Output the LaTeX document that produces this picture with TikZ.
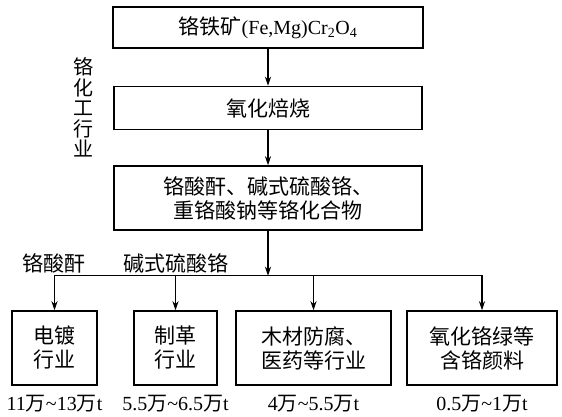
\documentclass[tikz,border=0pt]{standalone}
\usepackage{fontspec}
\setmainfont{Liberation Serif}
\newfontfamily\cjk{Noto Sans CJK SC}
\usetikzlibrary{arrows.meta, positioning}

\newcommand{\wan}{{\cjk 万}}

\begin{document}
\begin{tikzpicture}[
    x=1pt, y=-1pt,
    box/.style    = {rectangle, draw, line width=1.5pt, inner sep=0pt,
                     align=center, font=\fontsize{21}{24}\selectfont\cjk},
    wide/.style   = {box, minimum width=308pt},
    sector/.style = {box, minimum height=74pt},
    tag/.style    = {inner sep=0pt, align=center,
                     font=\fontsize{21}{24}\selectfont\cjk},
    amount/.style = {inner sep=0pt, font=\fontsize{20}{24}\selectfont},
    arrow/.style  = {-{Stealth[length=9pt, width=6pt]}, line width=1.1pt}
]
\useasboundingbox (0,0) rectangle (562,417);

% ========= central column =========
\node[wide, minimum width=310pt, minimum height=41pt,
      font=\fontsize{20}{24}\selectfont] (ore) at (268,27.5)
    {{\cjk\fontsize{21}{24}\selectfont 铬铁矿}(Fe,Mg)Cr\textsubscript{2}O\textsubscript{4}};
\node[wide, minimum height=43pt, below=37pt of ore]       (roast)     {氧化焙烧};
\node[wide, minimum height=64pt, below=35pt of roast]     (compounds) {铬酸酐、碱式硫酸铬、\\重铬酸钠等铬化合物};

\node[tag, font=\fontsize{20}{20.5}\selectfont\cjk] (industry) at (83,107.5)
    {铬\\化\\工\\行\\业};

\draw[arrow] (ore)   -- (roast);
\draw[arrow] (roast) -- (compounds);

% ========= uses =========
\node[sector, minimum width=85pt]  (plating) at (54.5,348)  {电镀\\行业};
\node[sector, minimum width=83pt]  (tanning) at (175.5,348) {制革\\行业};
\node[sector, minimum width=155pt] (wood)    at (313.5,348) {木材防腐、\\医药等行业};
\node[sector, minimum width=150pt] (pigment) at (482,348)   {氧化铬绿等\\含铬颜料};

\coordinate[below=45pt of compounds.south] (split);

\draw[arrow] (compounds) -- (split);
\draw[arrow] (split) -| (plating);
\draw[arrow] (split) -| (pigment);
\draw[arrow] (tanning |- split) -- (tanning);
\draw[arrow] (wood |- split)    -- (wood);

\node[tag] (chromic) at ([yshift=12pt]plating.north |- split) {铬酸酐};
\node[tag] (basic)   at ([yshift=12pt]tanning.north |- split) {碱式硫酸铬};

% ========= amounts =========
\node[amount, below=9pt of plating] (platingamt) {11\wan\textasciitilde13\wan t};
\node[amount, below=9pt of tanning] (tanningamt) {5.5\wan\textasciitilde6.5\wan t};
\node[amount, below=9pt of wood]    (woodamt)    {4\wan\textasciitilde5.5\wan t};
\node[amount, below=9pt of pigment] (pigmentamt) {0.5\wan\textasciitilde1\wan t};

\end{tikzpicture}
\end{document}
